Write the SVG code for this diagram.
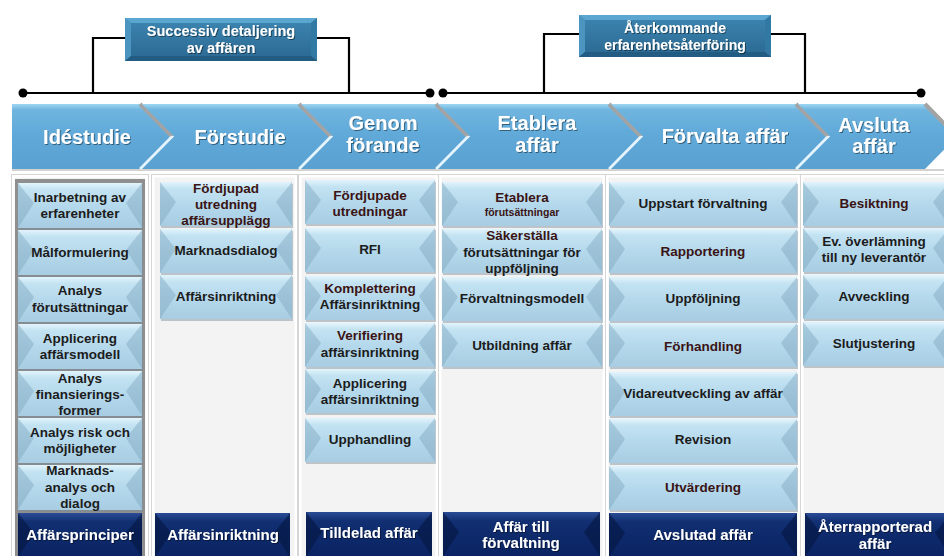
<svg xmlns="http://www.w3.org/2000/svg" xmlns:xlink="http://www.w3.org/1999/xlink" width="944" height="556" viewBox="0 0 944 556">
  <style>
    .t { font-family: "Liberation Sans", Arial, sans-serif; font-weight: bold; text-anchor: middle; }
    .it { font-size: 13.5px; fill: #1c1c1c; }
    .itm { font-size: 13.5px; fill: #3a1414; }
    .sm { font-size: 10.5px; }
    .dk { font-size: 15px; fill: #ffffff; filter: url(#ts); }
    .ch { font-size: 20px; fill: #ffffff; filter: url(#ts); }
    .lb { font-size: 14.5px; fill: #ffffff; filter: url(#ts); }
    .lb2 { font-size: 14px; fill: #ffffff; filter: url(#ts); }
    .panel { fill: #f3f3f3; stroke: #ffffff; stroke-width: 3; }
    .pframe { fill: none; stroke: #d6d6d6; stroke-width: 1; }
    .conn { fill: none; stroke: #000000; stroke-width: 2.2; }
    .dot { fill: #000000; }
    .chev { fill: url(#gChev); }
    .bevG { stroke: #a3a3a3; stroke-width: 4; fill: none; }
    .bevL { stroke: #e4f5fd; stroke-width: 2.5; fill: none; }
    .fac { fill: #7ea7bf; opacity: 0.45; }
    .facD { fill: #04143c; opacity: 0.55; }
    .sh { fill: #7d8c96; opacity: 0.45; }
  </style>
  <defs>
    <filter id="ts" x="-10%" y="-20%" width="120%" height="150%">
      <feDropShadow dx="1" dy="1" stdDeviation="0.6" flood-color="#000000" flood-opacity="0.45"/>
    </filter>
    <linearGradient id="gChev" x1="0" y1="0" x2="0" y2="1">
      <stop offset="0" stop-color="#9fd6f2"/>
      <stop offset="0.09" stop-color="#6fb5df"/>
      <stop offset="0.5" stop-color="#5fa8d8"/>
      <stop offset="1" stop-color="#5aa1d1"/>
    </linearGradient>
    <linearGradient id="gTile" x1="0" y1="0" x2="0" y2="1">
      <stop offset="0" stop-color="#e2f4fc"/>
      <stop offset="0.15" stop-color="#c3e3f2"/>
      <stop offset="0.55" stop-color="#b3d7eb"/>
      <stop offset="1" stop-color="#a8cde2"/>
    </linearGradient>
    <linearGradient id="gDark" x1="0" y1="0" x2="0" y2="1">
      <stop offset="0" stop-color="#2a4c96"/>
      <stop offset="0.2" stop-color="#112f72"/>
      <stop offset="1" stop-color="#0a2362"/>
    </linearGradient>
    <linearGradient id="gLab" x1="0" y1="0" x2="0" y2="1">
      <stop offset="0" stop-color="#3d86b2"/>
      <stop offset="1" stop-color="#2a6891"/>
    </linearGradient>

    <!-- light bevelled tiles, one per column width -->
    <g id="t124">
      <rect class="sh" x="1" y="2" width="124" height="45"/>
      <rect width="124" height="45" fill="url(#gTile)"/>
      <polygon class="fac" points="0,0 16,20 0,45"/>
      <polygon class="fac" points="124,0 108,20 124,45"/>
    </g>
    <g id="t132">
      <rect class="sh" x="1" y="2" width="132" height="44"/>
      <rect width="132" height="44" fill="url(#gTile)"/>
      <polygon class="fac" points="0,0 16,20 0,44"/>
      <polygon class="fac" points="132,0 116,20 132,44"/>
    </g>
    <g id="t130">
      <rect class="sh" x="1" y="2" width="130" height="44"/>
      <rect width="130" height="44" fill="url(#gTile)"/>
      <polygon class="fac" points="0,0 16,20 0,44"/>
      <polygon class="fac" points="130,0 114,20 130,44"/>
    </g>
    <g id="t160">
      <rect class="sh" x="1" y="2" width="160" height="44"/>
      <rect width="160" height="44" fill="url(#gTile)"/>
      <polygon class="fac" points="0,0 16,20 0,44"/>
      <polygon class="fac" points="160,0 144,20 160,44"/>
    </g>
    <g id="t188">
      <rect class="sh" x="1" y="2" width="188" height="44"/>
      <rect width="188" height="44" fill="url(#gTile)"/>
      <polygon class="fac" points="0,0 16,20 0,44"/>
      <polygon class="fac" points="188,0 172,20 188,44"/>
    </g>
    <g id="t146">
      <rect class="sh" x="1" y="2" width="146" height="44"/>
      <rect width="146" height="44" fill="url(#gTile)"/>
      <polygon class="fac" points="0,0 16,20 0,44"/>
      <polygon class="fac" points="146,0 130,20 146,44"/>
    </g>

    <!-- dark result tiles -->
    <g id="d124">
      <rect width="124" height="44" fill="url(#gDark)"/>
      <polygon class="facD" points="0,0 16,20 0,44"/>
      <polygon class="facD" points="124,0 108,20 124,44"/>
    </g>
    <g id="d135">
      <rect width="135" height="44" fill="url(#gDark)"/>
      <polygon class="facD" points="0,0 16,20 0,44"/>
      <polygon class="facD" points="135,0 119,20 135,44"/>
    </g>
    <g id="d126">
      <rect width="126" height="44" fill="url(#gDark)"/>
      <polygon class="facD" points="0,0 16,20 0,44"/>
      <polygon class="facD" points="126,0 110,20 126,44"/>
    </g>
    <g id="d157">
      <rect width="157" height="44" fill="url(#gDark)"/>
      <polygon class="facD" points="0,0 16,20 0,44"/>
      <polygon class="facD" points="157,0 141,20 157,44"/>
    </g>
    <g id="d188">
      <rect width="188" height="44" fill="url(#gDark)"/>
      <polygon class="facD" points="0,0 16,20 0,44"/>
      <polygon class="facD" points="188,0 172,20 188,44"/>
    </g>
    <g id="d146">
      <rect width="146" height="44" fill="url(#gDark)"/>
      <polygon class="facD" points="0,0 16,20 0,44"/>
      <polygon class="facD" points="146,0 130,20 146,44"/>
    </g>
  </defs>

  <rect width="944" height="556" fill="#ffffff"/>

  <!-- connectors: timelines and brackets -->
  <g id="connectors">
    <polyline class="conn" points="23,93 430,93"/>
    <polyline class="conn" points="125,38 93,38 93,93"/>
    <polyline class="conn" points="317,38 349,38 349,93"/>
    <circle class="dot" cx="23" cy="93" r="4.5"/>
    <circle class="dot" cx="430" cy="93" r="4.5"/>
    <polyline class="conn" points="443,93 921,93"/>
    <polyline class="conn" points="579,34 544,34 544,93"/>
    <polyline class="conn" points="771,34 805,34 805,93"/>
    <circle class="dot" cx="443" cy="93" r="4.5"/>
    <circle class="dot" cx="921" cy="93" r="4.5"/>
  </g>

  <!-- bracket labels -->
  <g id="label-successiv">
    <rect x="125" y="18" width="192" height="43" fill="url(#gLab)"/>
    <polygon points="125,18 317,18 311,23 131,23" fill="#5aa6d1"/>
    <polygon points="125,18 131,23 131,56 125,61" fill="#4b95c0"/>
    <polygon points="317,18 311,23 311,56 317,61" fill="#3178a3"/>
    <polygon points="125,61 131,56 311,56 317,61" fill="#235c82"/>
    <text class="t lb" x="221" y="36">Successiv detaljering</text>
    <text class="t lb" x="221" y="53">av affären</text>
  </g>
  <g id="label-aterkommande">
    <rect x="579" y="15" width="192" height="42" fill="url(#gLab)"/>
    <polygon points="579,15 771,15 765,20 585,20" fill="#5aa6d1"/>
    <polygon points="579,15 585,20 585,52 579,57" fill="#4b95c0"/>
    <polygon points="771,15 765,20 765,52 771,57" fill="#3178a3"/>
    <polygon points="579,57 585,52 765,52 771,57" fill="#235c82"/>
    <text class="t lb2" x="675" y="33">Återkommande</text>
    <text class="t lb2" x="675" y="50">erfarenhetsåterföring</text>
  </g>

  <!-- phase chevrons -->
  <rect x="12" y="169" width="932" height="2" fill="#d2d2d2"/>
  <g id="phase-idestudie">
    <polygon class="chev" points="12,104 140,104 172,136.5 140,169 12,169"/>
    <polyline class="bevG" points="140,104 172,136.5"/>
    <polyline class="bevL" points="172,136.5 140,169"/>
    <text class="t ch" x="87" y="144">Idéstudie</text>
  </g>
  <g id="phase-forstudie">
    <polygon class="chev" points="142,104 299,104 331,136.5 299,169 142,169 174,136.5"/>
    <polyline class="bevG" points="299,104 331,136.5"/>
    <polyline class="bevL" points="331,136.5 299,169"/>
    <text class="t ch" x="240" y="144">Förstudie</text>
  </g>
  <g id="phase-genomforande">
    <polygon class="chev" points="301,104 436,104 468,136.5 436,169 301,169 333,136.5"/>
    <polyline class="bevG" points="436,104 468,136.5"/>
    <polyline class="bevL" points="468,136.5 436,169"/>
    <text class="t ch" x="383" y="130">Genom</text>
    <text class="t ch" x="383" y="152">förande</text>
  </g>
  <g id="phase-etablera">
    <polygon class="chev" points="438,104 609,104 641,136.5 609,169 438,169 470,136.5"/>
    <polyline class="bevG" points="609,104 641,136.5"/>
    <polyline class="bevL" points="641,136.5 609,169"/>
    <text class="t ch" x="537" y="130">Etablera</text>
    <text class="t ch" x="537" y="152">affär</text>
  </g>
  <g id="phase-forvalta">
    <polygon class="chev" points="611,104 796,104 828,136.5 796,169 611,169 643,136.5"/>
    <polyline class="bevG" points="796,104 828,136.5"/>
    <polyline class="bevL" points="828,136.5 796,169"/>
    <text class="t ch" x="725" y="143">Förvalta affär</text>
  </g>
  <g id="phase-avsluta">
    <polygon class="chev" points="798,104 925,104 957,136.5 925,169 798,169 830,136.5"/>
    <polyline class="bevG" points="925,104 957,136.5"/>
    <text class="t ch" x="874" y="132">Avsluta</text>
    <text class="t ch" x="874" y="153">affär</text>
  </g>

  <!-- column panels -->
  <g id="panels">
    <rect class="panel" x="13" y="176" width="134" height="382"/>
    <rect class="pframe" x="11.5" y="174.5" width="137" height="385"/>
    <rect x="15" y="179" width="130" height="377" fill="#8f8f8f"/>
    <rect class="panel" x="153" y="176" width="143" height="382"/>
    <rect class="pframe" x="151.5" y="174.5" width="146" height="385"/>
    <rect class="panel" x="300" y="176" width="137" height="382"/>
    <rect class="pframe" x="298.5" y="174.5" width="140" height="385"/>
    <rect class="panel" x="440" y="176" width="164" height="382"/>
    <rect class="pframe" x="438.5" y="174.5" width="167" height="385"/>
    <rect class="panel" x="607" y="176" width="192" height="382"/>
    <rect class="pframe" x="605.5" y="174.5" width="195" height="385"/>
    <rect class="panel" x="802" y="176" width="150" height="382"/>
    <rect class="pframe" x="800.5" y="174.5" width="153" height="385"/>
  </g>

  <!-- Idéstudie activities -->
  <g id="ide-1"><use href="#t124" x="18" y="183"/><text class="t it" x="80" y="202">Inarbetning av</text><text class="t it" x="80" y="218">erfarenheter</text></g>
  <g id="ide-2"><use href="#t124" x="18" y="230"/><text class="t it" x="80" y="257">Målformulering</text></g>
  <g id="ide-3"><use href="#t124" x="18" y="277"/><text class="t it" x="80" y="295">Analys</text><text class="t it" x="80" y="312">förutsättningar</text></g>
  <g id="ide-4"><use href="#t124" x="18" y="324"/><text class="t it" x="80" y="343">Applicering</text><text class="t it" x="80" y="359">affärsmodell</text></g>
  <g id="ide-5"><use href="#t124" x="18" y="371"/><text class="t it" x="80" y="383">Analys</text><text class="t it" x="80" y="399">finansierings-</text><text class="t it" x="80" y="415">former</text></g>
  <g id="ide-6"><use href="#t124" x="18" y="418"/><text class="t it" x="80" y="437">Analys risk och</text><text class="t it" x="80" y="453">möjligheter</text></g>
  <g id="ide-7"><use href="#t124" x="18" y="465"/><text class="t it" x="80" y="475">Marknads-</text><text class="t it" x="80" y="492">analys och</text><text class="t it" x="80" y="508">dialog</text></g>
  <g id="ide-out"><use href="#d124" x="18" y="513"/><text class="t dk" x="80" y="540">Affärsprinciper</text></g>

  <!-- Förstudie activities -->
  <g id="for-1"><use href="#t132" x="160" y="182"/><text class="t itm" x="226" y="193">Fördjupad</text><text class="t itm" x="226" y="209">utredning</text><text class="t itm" x="226" y="225">affärsupplägg</text></g>
  <g id="for-2"><use href="#t132" x="160" y="229"/><text class="t it" x="226" y="255">Marknadsdialog</text></g>
  <g id="for-3"><use href="#t132" x="160" y="275"/><text class="t it" x="226" y="301">Affärsinriktning</text></g>
  <g id="for-out"><use href="#d135" x="155" y="513"/><text class="t dk" x="223" y="540">Affärsinriktning</text></g>

  <!-- Genomförande activities -->
  <g id="gen-1"><use href="#t130" x="305" y="180"/><text class="t itm" x="370" y="200">Fördjupade</text><text class="t itm" x="370" y="216">utredningar</text></g>
  <g id="gen-2"><use href="#t130" x="305" y="228"/><text class="t it" x="370" y="254">RFI</text></g>
  <g id="gen-3"><use href="#t130" x="305" y="276"/><text class="t itm" x="370" y="293">Komplettering</text><text class="t it" x="370" y="309">Affärsinriktning</text></g>
  <g id="gen-4"><use href="#t130" x="305" y="323"/><text class="t itm" x="370" y="340">Verifiering</text><text class="t it" x="370" y="357">affärsinriktning</text></g>
  <g id="gen-5"><use href="#t130" x="305" y="369"/><text class="t it" x="370" y="388">Applicering</text><text class="t it" x="370" y="404">affärsinriktning</text></g>
  <g id="gen-6"><use href="#t130" x="305" y="418"/><text class="t it" x="370" y="444">Upphandling</text></g>
  <g id="gen-out"><use href="#d126" x="306" y="512"/><text class="t dk" x="369" y="538">Tilldelad affär</text></g>

  <!-- Etablera affär activities -->
  <g id="eta-1"><use href="#t160" x="442" y="182"/><text class="t itm" x="522" y="202">Etablera</text><text class="t itm sm" x="522" y="216">förutsättningar</text></g>
  <g id="eta-2"><use href="#t160" x="442" y="229"/><text class="t itm" x="522" y="240">Säkerställa</text><text class="t it" x="522" y="257">förutsättningar för</text><text class="t it" x="522" y="273">uppföljning</text></g>
  <g id="eta-3"><use href="#t160" x="442" y="277"/><text class="t it" x="522" y="303">Förvaltningsmodell</text></g>
  <g id="eta-4"><use href="#t160" x="442" y="323"/><text class="t it" x="522" y="350">Utbildning affär</text></g>
  <g id="eta-out"><use href="#d157" x="443" y="512"/><text class="t dk" x="521" y="532">Affär till</text><text class="t dk" x="521" y="548">förvaltning</text></g>

  <!-- Förvalta affär activities -->
  <g id="fva-1"><use href="#t188" x="609" y="182"/><text class="t it" x="703" y="208">Uppstart förvaltning</text></g>
  <g id="fva-2"><use href="#t188" x="609" y="229"/><text class="t itm" x="703" y="256">Rapportering</text></g>
  <g id="fva-3"><use href="#t188" x="609" y="277"/><text class="t it" x="703" y="303">Uppföljning</text></g>
  <g id="fva-4"><use href="#t188" x="609" y="323"/><text class="t itm" x="703" y="351">Förhandling</text></g>
  <g id="fva-5"><use href="#t188" x="609" y="372"/><text class="t it" x="703" y="398">Vidareutveckling av affär</text></g>
  <g id="fva-6"><use href="#t188" x="609" y="419"/><text class="t it" x="703" y="444">Revision</text></g>
  <g id="fva-7"><use href="#t188" x="609" y="466"/><text class="t itm" x="703" y="492">Utvärdering</text></g>
  <g id="fva-out"><use href="#d188" x="609" y="513"/><text class="t dk" x="703" y="540">Avslutad affär</text></g>

  <!-- Avsluta affär activities -->
  <g id="avs-1"><use href="#t146" x="803" y="182"/><text class="t itm" x="874" y="208">Besiktning</text></g>
  <g id="avs-2"><use href="#t146" x="803" y="228"/><text class="t it" x="874" y="246">Ev. överlämning</text><text class="t it" x="874" y="262">till ny leverantör</text></g>
  <g id="avs-3"><use href="#t146" x="803" y="275"/><text class="t it" x="874" y="301">Avveckling</text></g>
  <g id="avs-4"><use href="#t146" x="803" y="322"/><text class="t it" x="874" y="348">Slutjustering</text></g>
  <g id="avs-out"><use href="#d146" x="805" y="513"/><text class="t dk" x="875" y="532">Återrapporterad</text><text class="t dk" x="875" y="549">affär</text></g>
</svg>
